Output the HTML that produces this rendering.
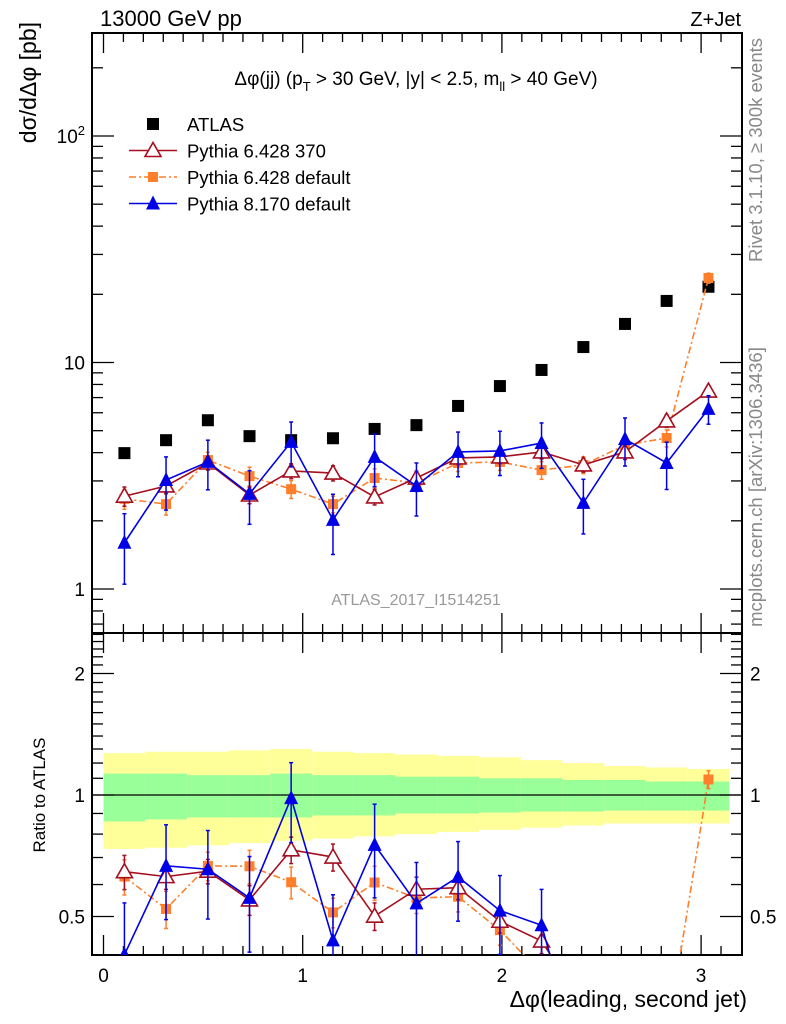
<!DOCTYPE html>
<html><head><meta charset="utf-8">
<style>
html,body{margin:0;padding:0;background:#fff;overflow:hidden;width:786px;height:1024px;}
svg{display:block;font-family:"Liberation Sans",sans-serif;}
</style></head>
<body>
<svg id="c" width="786" height="1024" viewBox="0 0 786 1024" xmlns="http://www.w3.org/2000/svg">
<g id="bands"></g>
<g id="axes"></g>
<g id="series"></g>
<text x="100" y="26" font-size="22">13000 GeV pp</text>
<text x="741" y="26" font-size="20" text-anchor="end">Z+Jet</text>
<text x="416" y="85" font-size="19" text-anchor="middle">Δφ(jj) (p<tspan font-size="13" dy="6">T</tspan><tspan dy="-6"> &gt; 30 GeV, |y| &lt; 2.5, m</tspan><tspan font-size="13" dy="6">ll</tspan><tspan dy="-6"> &gt; 40 GeV)</tspan></text>
<text x="416" y="605" font-size="16" fill="#999" text-anchor="middle">ATLAS_2017_I1514251</text>
<text transform="translate(762,150) rotate(-90)" font-size="18.5" fill="#888" text-anchor="middle">Rivet 3.1.10, ≥ 300k events</text>
<text transform="translate(762,487) rotate(-90)" font-size="18.5" fill="#888" text-anchor="middle">mcplots.cern.ch [arXiv:1306.3436]</text>
<text transform="translate(36,22) rotate(-90)" font-size="23" text-anchor="end">dσ/dΔφ [pb]</text>
<text transform="translate(45,795) rotate(-90)" font-size="17" text-anchor="middle">Ratio to ATLAS</text>
<text x="747" y="1007" font-size="23" text-anchor="end">Δφ(leading, second jet)</text>
<g id="legend"></g>
</svg>
<script>
const binCenters = [0.105,0.314,0.524,0.733,0.942,1.152,1.361,1.571,1.780,1.990,2.199,2.409,2.618,2.827,3.037];
const atlasVals = [3.98,4.54,5.56,4.73,4.54,4.63,5.09,5.29,6.43,7.87,9.27,11.7,14.8,18.7,21.6];
const py6370Vals = [2.57,2.85,3.60,2.60,3.32,3.25,2.55,3.09,3.79,3.83,4.03,3.53,4.03,5.52,7.48];
const py6370Err = [0.25,0.2,0.25,0.22,0.25,0.25,0.2,0.22,0.25,0.25,0.28,0.25,0.3,0.35,0.45];
const py6defVals = [2.50,2.37,3.71,3.15,2.76,2.37,3.09,2.94,3.60,3.64,3.35,3.53,4.32,4.64,23.6];
const py6defErr = [0.25,0.25,0.3,0.3,0.25,0.2,0.3,0.25,0.3,0.3,0.3,0.3,0.35,0.4,1.2];
const py8Vals = [1.60,3.03,3.64,2.63,4.46,2.02,3.83,2.85,4.03,4.07,4.41,2.40,4.59,3.60,6.24];
const py8Err = [0.55,0.8,0.9,0.7,1.0,0.6,1.0,0.75,0.9,0.9,1.0,0.65,1.1,0.85,0.9];
const bandOuterUp = [0.27,0.28,0.28,0.29,0.30,0.28,0.27,0.26,0.25,0.24,0.22,0.20,0.18,0.17,0.16];
const bandOuterDn = [0.265,0.26,0.25,0.24,0.23,0.22,0.21,0.20,0.19,0.18,0.17,0.16,0.15,0.15,0.15];
const bandInnerUp = [0.13,0.13,0.12,0.12,0.13,0.12,0.12,0.11,0.11,0.10,0.10,0.09,0.09,0.08,0.08];
const bandInnerDn = [0.14,0.13,0.12,0.12,0.12,0.11,0.11,0.10,0.10,0.095,0.09,0.09,0.085,0.085,0.085];
const xTicks = [0,1,2,3];
const mainYTicks = [1,10,100];
const ratioTicks = [0.5,1,2];

const NS="http://www.w3.org/2000/svg";
const L=92,R=742,T=33,MB=633,RB=955;
const bw=Math.PI/15;
const X=v=>103.5+v*199.2;
const Y=v=>589-Math.log10(v)*226.5;
const RY=v=>795-Math.log2(v)*121.5;
function mk(tag,attrs,parent){const e=document.createElementNS(NS,tag);for(const k in attrs)e.setAttribute(k,attrs[k]);parent.appendChild(e);return e;}
const axes=document.getElementById('axes'),ser=document.getElementById('series'),bands=document.getElementById('bands'),leg=document.getElementById('legend');

binCenters.forEach((c,i)=>{
  const x0=X(c-bw/2),x1=X(c+bw/2);
  const ro=mk('rect',{x:x0,y:RY(1+bandOuterUp[i]),width:x1-x0,height:RY(1-bandOuterDn[i])-RY(1+bandOuterUp[i]),fill:'#ffff99'},bands);
  
  
  const ri=mk('rect',{x:x0,y:RY(1+bandInnerUp[i]),width:x1-x0,height:RY(1-bandInnerDn[i])-RY(1+bandInnerUp[i]),fill:'#99ff99'},bands);
  
  
});

mk('rect',{x:L,y:T,width:R-L,height:MB-T,fill:'none',stroke:'#000','stroke-width':2},axes);
mk('rect',{x:L,y:MB,width:R-L,height:RB-MB,fill:'none',stroke:'#000','stroke-width':2},axes);
mk('line',{x1:L,x2:R,y1:RY(1),y2:RY(1),stroke:'#000','stroke-width':1.3},axes);
for(let v=0;v<=3.2;v+=0.1){
  const t=Math.round(v*10)/10, x=X(t); if(x<L||x>R)continue;
  const maj=Math.abs(t-Math.round(t))<1e-6, len=maj?20:9;
  [[T,1],[MB,-1],[MB,1],[RB,-1]].forEach(([y,d])=>mk('line',{x1:x,x2:x,y1:y,y2:y+d*len,stroke:'#000','stroke-width':1.3},axes));
}
xTicks.forEach(t=>{const tx=mk('text',{x:X(t),y:982,'font-size':19,'text-anchor':'middle'},axes);tx.textContent=t;
  
  });
for(let d=-1;d<=2;d++)for(let m=1;m<10;m++){
  const v=m*Math.pow(10,d),y=Y(v); if(y<T||y>MB)continue;
  const len=m==1?22:11;
  mk('line',{x1:L,x2:L+len,y1:y,y2:y,stroke:'#000','stroke-width':1.3},axes);
  mk('line',{x1:R,x2:R-len,y1:y,y2:y,stroke:'#000','stroke-width':1.3},axes);
}
mainYTicks.forEach(v=>{const tx=mk('text',{x:85,y:Y(v)+7,'font-size':19,'text-anchor':'end'},axes);
  if(v==100){tx.textContent='10';const s=mk('tspan',{dy:-8,'font-size':13},tx);s.textContent='2';}else tx.textContent=v;
  
  });
for(let k=4;k<=25;k++){const v=k/10,y=RY(v);if(y<MB||y>RB)continue;
  const maj=(k==5||k==10||k==20),len=maj?22:11;
  mk('line',{x1:L,x2:L+len,y1:y,y2:y,stroke:'#000','stroke-width':1.3},axes);
  mk('line',{x1:R,x2:R-len,y1:y,y2:y,stroke:'#000','stroke-width':1.3},axes);}
ratioTicks.forEach(v=>{[[85,'end'],[750,'start']].forEach(([x,a])=>{const tx=mk('text',{x:x,y:RY(v)+7,'font-size':19,'text-anchor':a},axes);tx.textContent=v;
  
  });});

const defs=mk('defs',{},document.getElementById('c'));
const c1=mk('clipPath',{id:'cm'},defs);mk('rect',{x:L,y:T,width:R-L,height:MB-T},c1);
const c2=mk('clipPath',{id:'cr'},defs);mk('rect',{x:L,y:MB,width:R-L,height:RB-MB},c2);

function marker(g,type,x,y,col){
  if(type=='sq') mk('rect',{x:x-6,y:y-6,width:12,height:12,fill:col},g);
  else if(type=='osq') mk('rect',{x:x-5,y:y-5,width:10,height:10,fill:col},g);
  else if(type=='otri') mk('polygon',{points:`${x},${y-8} ${x-8},${y+6} ${x+8},${y+6}`,fill:'#fff',stroke:col,'stroke-width':1.6},g);
  else mk('polygon',{points:`${x},${y-8} ${x-7},${y+6} ${x+7},${y+6}`,fill:col},g);
}
function series(vals,errs,col,type,dash,name){
  [[Y,v=>v,e=>e,'cm'],[RY,(v,i)=>v/atlasVals[i],(e,i)=>e/atlasVals[i],'cr']].forEach(([F,fv,fe,clip],p)=>{
    const g=mk('g',{'clip-path':`url(#${clip})`},ser);
    
    
    const pts=vals.map((v,i)=>[X(binCenters[i]),F(fv(v,i))]);
    const pl=mk('polyline',{points:pts.map(p=>p.join(',')).join(' '),fill:'none',stroke:col,'stroke-width':1.6},g);
    if(dash)pl.setAttribute('stroke-dasharray',dash);
    vals.forEach((v,i)=>{const x=pts[i][0],r=fv(v,i),e=fe(errs[i],i);
      const y1=F(r+e),y2=F(Math.max(r-e,0.01));
      mk('line',{x1:x,x2:x,y1:y1,y2:y2,stroke:col,'stroke-width':1.5},g);
      mk('line',{x1:x-2,x2:x+2,y1:y1,y2:y1,stroke:col,'stroke-width':1.5},g);
      mk('line',{x1:x-2,x2:x+2,y1:y2,y2:y2,stroke:col,'stroke-width':1.5},g);
    });
    pts.forEach(p=>marker(g,type,p[0],p[1],col));
  });
}
const ga=mk('g',{'clip-path':'url(#cm)'},ser);


atlasVals.forEach((v,i)=>marker(ga,'sq',X(binCenters[i]),Y(v),'#000'));
series(py6defVals,py6defErr,'#ff7f2a','osq','7,3,2,3','pythia6-default');
series(py6370Vals,py6370Err,'#a50f1f','otri',null,'pythia6-370');
series(py8Vals,py8Err,'#0000e6','tri',null,'pythia8-default');

const items=[['ATLAS','sq','#000',null],['Pythia 6.428 370','otri','#a50f1f',''],['Pythia 6.428 default','osq','#ff7f2a','7,3,2,3'],['Pythia 8.170 default','tri','#0000e6','']];
items.forEach((it,i)=>{const y=124+i*26.5;const g=mk('g',{},leg);
  
  
  if(it[3]!==null){const l=mk('line',{x1:129,x2:177,y1:y,y2:y,stroke:it[2],'stroke-width':1.6},g);if(it[3])l.setAttribute('stroke-dasharray',it[3]);}
  marker(g,it[1],153,y,it[2]);
  const t=mk('text',{x:187,y:y+7,'font-size':18.5},g);t.textContent=it[0];});
</script>
</body></html>
